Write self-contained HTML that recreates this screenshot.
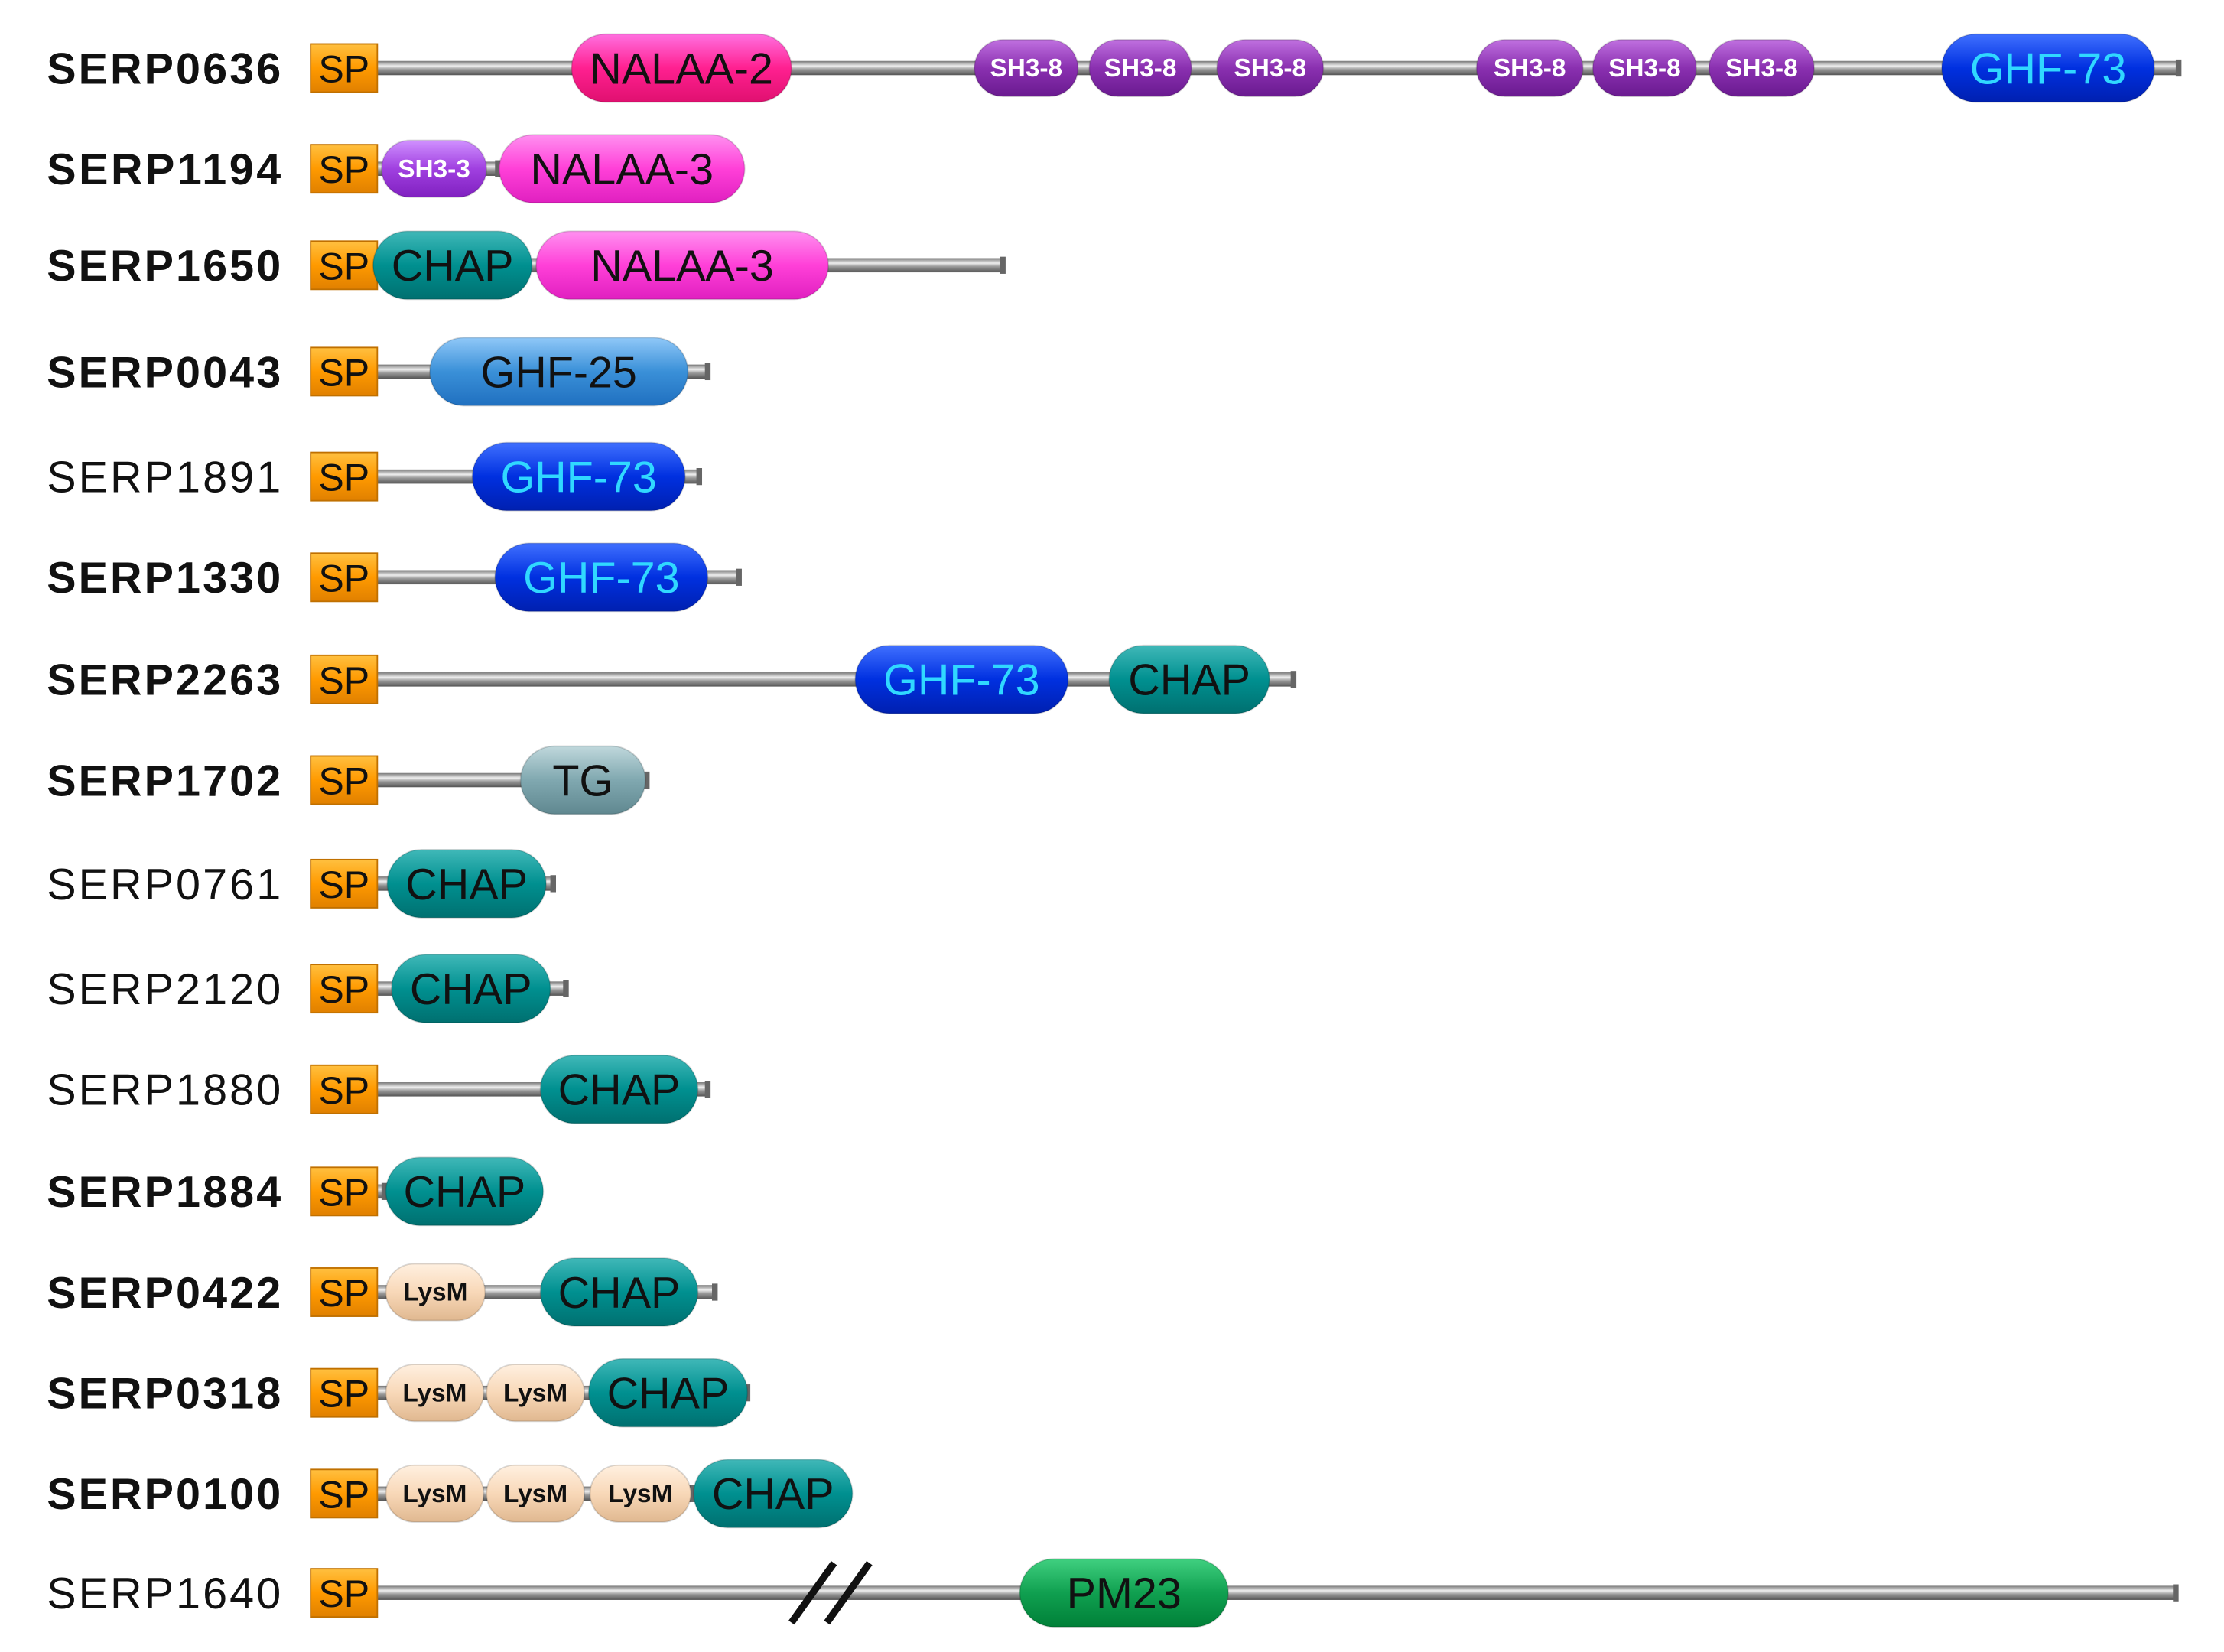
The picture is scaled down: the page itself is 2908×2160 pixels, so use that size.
<!DOCTYPE html>
<html><head><meta charset="utf-8"><style>html,body{margin:0;padding:0;background:#fff}svg{display:block}</style></head>
<body>
<svg width="2908" height="2160" viewBox="0 0 1568 1164.7" preserveAspectRatio="none" xmlns="http://www.w3.org/2000/svg" font-family="Liberation Sans, Arial, sans-serif">
<defs>
<linearGradient id="ln" x1="0" y1="0" x2="0" y2="1"><stop offset="0" stop-color="#777"/><stop offset=".35" stop-color="#eee"/><stop offset=".6" stop-color="#999"/><stop offset="1" stop-color="#555"/></linearGradient>
<linearGradient id="sp" x1="0" y1="0" x2="0" y2="1"><stop offset="0" stop-color="#ffc040"/><stop offset=".5" stop-color="#ff9a00"/><stop offset="1" stop-color="#e08000"/></linearGradient>
<linearGradient id="g_n2" x1="0" y1="0" x2="0" y2="1"><stop offset="0" stop-color="#ff70e0"/><stop offset=".5" stop-color="#ff2090"/><stop offset="1" stop-color="#e01070"/></linearGradient>
<linearGradient id="g_n3" x1="0" y1="0" x2="0" y2="1"><stop offset="0" stop-color="#ff90f0"/><stop offset=".5" stop-color="#ff40d8"/><stop offset="1" stop-color="#e020c0"/></linearGradient>
<linearGradient id="g_s8" x1="0" y1="0" x2="0" y2="1"><stop offset="0" stop-color="#c070e0"/><stop offset=".5" stop-color="#8a30b0"/><stop offset="1" stop-color="#6a1a90"/></linearGradient>
<linearGradient id="g_s3" x1="0" y1="0" x2="0" y2="1"><stop offset="0" stop-color="#d090ff"/><stop offset=".5" stop-color="#a040e0"/><stop offset="1" stop-color="#8020c0"/></linearGradient>
<linearGradient id="g_gh" x1="0" y1="0" x2="0" y2="1"><stop offset="0" stop-color="#4070ff"/><stop offset=".5" stop-color="#0030e0"/><stop offset="1" stop-color="#0020b0"/></linearGradient>
<linearGradient id="g_25" x1="0" y1="0" x2="0" y2="1"><stop offset="0" stop-color="#90c8f8"/><stop offset=".5" stop-color="#3a90d8"/><stop offset="1" stop-color="#2070c0"/></linearGradient>
<linearGradient id="g_ch" x1="0" y1="0" x2="0" y2="1"><stop offset="0" stop-color="#40b8b8"/><stop offset=".5" stop-color="#009090"/><stop offset="1" stop-color="#007070"/></linearGradient>
<linearGradient id="g_tg" x1="0" y1="0" x2="0" y2="1"><stop offset="0" stop-color="#c0d8dc"/><stop offset=".5" stop-color="#80a8b0"/><stop offset="1" stop-color="#608890"/></linearGradient>
<linearGradient id="g_ly" x1="0" y1="0" x2="0" y2="1"><stop offset="0" stop-color="#fff0e0"/><stop offset=".5" stop-color="#f8d8b8"/><stop offset="1" stop-color="#e0b890"/></linearGradient>
<linearGradient id="g_pm" x1="0" y1="0" x2="0" y2="1"><stop offset="0" stop-color="#40d080"/><stop offset=".5" stop-color="#10a050"/><stop offset="1" stop-color="#008038"/></linearGradient>
</defs>
<g id="c"></g>
<script>
const S='http://www.w3.org/2000/svg',c=document.getElementById('c');
function el(t,a,txt){const e=document.createElementNS(S,t);for(const k in a)e.setAttribute(k,a[k]);if(txt)e.textContent=txt;c.appendChild(e);return e;}
const rows=[
[48,'SERP0636',1,1537,[['g_n2',403,558,'NALAA-2'],['g_s8',687,760,'SH3-8'],['g_s8',768,840,'SH3-8'],['g_s8',858,933,'SH3-8'],['g_s8',1041,1116,'SH3-8'],['g_s8',1123,1196,'SH3-8'],['g_s8',1205,1279,'SH3-8'],['g_gh',1369,1519,'GHF-73']]],
[119,'SERP1194',1,352,[['g_s3',269,343,'SH3-3'],['g_n3',352,525,'NALAA-3']]],
[187,'SERP1650',1,708,[['g_ch',263,375,'CHAP'],['g_n3',378,584,'NALAA-3']]],
[262,'SERP0043',1,500,[['g_25',303,485,'GHF-25']]],
[336,'SERP1891',0,494,[['g_gh',333,483,'GHF-73']]],
[407,'SERP1330',1,522,[['g_gh',349,499,'GHF-73']]],
[479,'SERP2263',1,913,[['g_gh',603,753,'GHF-73'],['g_ch',782,895,'CHAP']]],
[550,'SERP1702',1,457,[['g_tg',367,455,'TG']]],
[623,'SERP0761',0,391,[['g_ch',273,385,'CHAP']]],
[697,'SERP2120',0,400,[['g_ch',276,388,'CHAP']]],
[768,'SERP1880',0,500,[['g_ch',381,492,'CHAP']]],
[840,'SERP1884',1,272,[['g_ch',272,383,'CHAP']]],
[911,'SERP0422',1,505,[['g_ly',272,342,'LysM'],['g_ch',381,492,'CHAP']]],
[982,'SERP0318',1,528,[['g_ly',272,341,'LysM'],['g_ly',343,412,'LysM'],['g_ch',415,527,'CHAP']]],
[1053,'SERP0100',1,489,[['g_ly',272,341,'LysM'],['g_ly',343,412,'LysM'],['g_ly',416,487,'LysM'],['g_ch',489,601,'CHAP']]],
[1123,'SERP1640',0,1535,[['g_pm',719,866,'PM23']]]
];
for(const [y,name,b,end,doms] of rows){
 el('text',{x:33,y:y+11,'font-size':31,'font-weight':b?'bold':'normal',fill:'#111',textLength:165,lengthAdjust:'spacing'},name);
 if(end>266){el('rect',{x:262,y:y-5,width:end-262,height:10,fill:'url(#ln)'});el('rect',{x:end-3,y:y-6,width:4,height:12,fill:'#666'});}
 el('rect',{x:219,y:y-17,width:47,height:34,fill:'url(#sp)',stroke:'#c07000','stroke-width':1});
 el('text',{x:242.5,y:y+10,'font-size':27,'text-anchor':'middle',fill:'#111'},'SP');
 for(const [g,x1,x2,lab] of doms){
  const sm=lab.startsWith('SH3')||lab==='LysM';
  const h=sm?40:48;
  el('rect',{x:x1,y:y-h/2,width:x2-x1,height:h,rx:h/2,ry:h/2,fill:'url(#'+g+')',stroke:'rgba(0,0,0,0.15)','stroke-width':1});
  let fill='#111',fs=31,fw='normal';
  if(g==='g_gh')fill='#30d8ff';
  if(lab.startsWith('SH3')){fill='#fff';fs=18;fw='bold';}
  if(lab==='LysM'){fs=18;fw='bold';}
  el('text',{x:(x1+x2)/2,y:y+(sm?6:11),'font-size':fs,'font-weight':fw,'text-anchor':'middle',fill:fill},lab);
 }
}
el('line',{x1:558,y1:1144,x2:588,y2:1102,stroke:'#111','stroke-width':5});
el('line',{x1:583,y1:1144,x2:613,y2:1102,stroke:'#111','stroke-width':5});
</script>
</svg>
</body></html>
